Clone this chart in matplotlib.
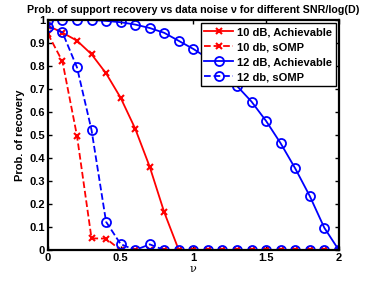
import matplotlib
matplotlib.use("Agg")
import matplotlib.pyplot as plt
import numpy as np

nu = [round(0.1 * i, 1) for i in range(21)]
ach10 = [0.975, 0.945, 0.91, 0.851, 0.768, 0.662, 0.528, 0.362, 0.164, 0, 0, 0, 0, 0, 0, 0, 0, 0, 0, 0, 0]
somp10 = [0.94, 0.82, 0.497, 0.051, 0.05, 0, 0, 0, 0, 0, 0, 0, 0, 0, 0, 0, 0, 0, 0, 0, 0]
ach12 = [1.0, 1.0, 1.0, 1.0, 0.996, 0.99, 0.98, 0.965, 0.944, 0.909, 0.874, 0.833, 0.78, 0.713, 0.645, 0.561, 0.464, 0.355, 0.235, 0.097, 0]
somp12 = [0.971, 0.946, 0.794, 0.522, 0.123, 0.026, 0, 0.025, 0, 0, 0, 0, 0, 0, 0, 0, 0, 0, 0, 0, 0]

labels = ["10 dB, Achievable", "10 db, sOMP", "12 dB, Achievable", "12 db, sOMP"]
title = "Prob. of support recovery vs data noise \u03bd for different SNR/log(D)"

plt.rcParams['font.family'] = ['Liberation Sans', 'DejaVu Sans']
plt.rcParams['font.weight'] = 'bold'

fig = plt.figure(figsize=(3.74, 2.81), dpi=100)
ax = fig.add_axes([0.128, 0.110, 0.778, 0.819])

ax.plot(nu, ach10, '-', color='red', marker='x', ms=4, mew=1.5, lw=1.3, label=labels[0])
ax.plot(nu, somp10, '--', color='red', marker='x', ms=4, mew=1.5, lw=1.3, label=labels[1])
ax.plot(nu, ach12, '-', color='blue', marker='o', ms=6.5, mfc='none', mew=1.3, lw=1.3, label=labels[2])
ax.plot(nu, somp12, '--', color='blue', marker='o', ms=6.5, mfc='none', mew=1.3, lw=1.3, label=labels[3])

ax.set_xlim(0, 2)
ax.set_ylim(0, 1)
ax.set_xticks([0, 0.5, 1, 1.5, 2])
ax.set_xticklabels(["0", "0.5", "1", "1.5", "2"])
ax.set_yticks([i / 10 for i in range(11)])
ax.set_yticklabels(["0"] + ["%.1f" % (i / 10) for i in range(1, 10)] + ["1"])
ax.tick_params(direction='in', top=True, right=True, labelsize=8, length=3, width=1, pad=2)
for lab in ax.get_xticklabels() + ax.get_yticklabels():
    lab.set_fontweight('bold')
for s in ax.spines.values():
    s.set_linewidth(1.6)

ax.set_xlabel("\u03bd", fontsize=8, fontweight='normal', family='DejaVu Serif', labelpad=1)
ax.set_ylabel("Prob. of recovery", fontsize=8, fontweight='bold', labelpad=3)
ax.set_title(title, fontsize=7.7, fontweight='bold', pad=5)

leg = ax.legend(loc='upper right', fontsize=8, frameon=True, fancybox=False,
                edgecolor='black', framealpha=1, borderpad=0.35, labelspacing=0.45,
                handlelength=2.6, handletextpad=0.3, borderaxespad=0.3)
leg.get_frame().set_linewidth(1.0)
for t in leg.get_texts():
    t.set_fontweight('bold')

fig.savefig("out.png", dpi=100)
